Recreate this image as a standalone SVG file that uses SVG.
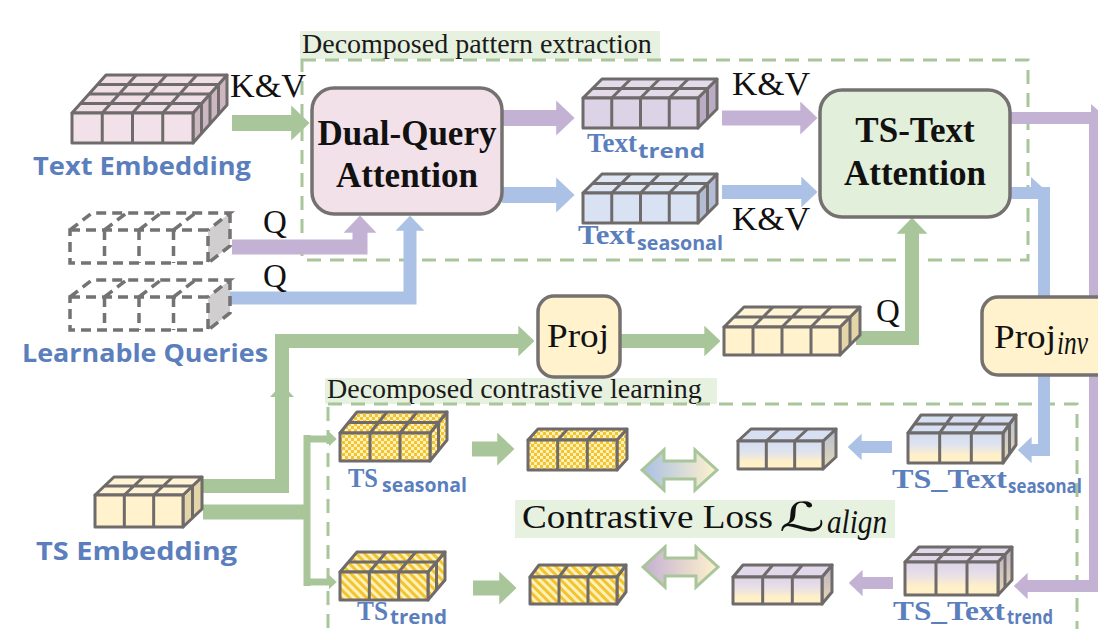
<svg xmlns="http://www.w3.org/2000/svg" width="1098" height="629" viewBox="0 0 1098 629">
<defs>
<style>
.dash{fill:none;stroke:#a8c69a;stroke-width:3;stroke-dasharray:14 9}
.hl{fill:#e6f1df}
.cap{font-family:"Liberation Serif",serif;font-size:28px;fill:#1a1a1a}
.box{stroke:#767171;stroke-width:3.5}
.bt{font-family:"Liberation Serif",serif;font-weight:700;font-size:35px;fill:#111;text-anchor:middle}
.cb{stroke:#6f6b6b;stroke-width:3;stroke-linejoin:round}
.gl{fill:none;stroke:#6f6b6b;stroke-width:3}
.dq{fill:none;stroke:#747272;stroke-width:3.5;stroke-dasharray:10 6}
.lbl{font-family:"Open Sans","DejaVu Sans",sans-serif;font-weight:700;font-size:25px;fill:#5b7ebd}
.sl{font-family:"Liberation Serif",serif;font-weight:700;font-size:27px;fill:#5b7ebd}
.ss{font-family:"Open Sans","DejaVu Sans",sans-serif;font-weight:700;font-size:20px;fill:#5b7ebd}
.kv{font-family:"Liberation Serif",serif;font-size:33px;fill:#111}
.g{fill:none;stroke:#a8c69a}
.p{fill:none;stroke:#c4b2d4}
.b{fill:none;stroke:#abc1e5}
</style>
<marker id="ag" viewBox="0 0 11.5 22" refX="0.5" refY="11" markerWidth="1.15" markerHeight="2.2" markerUnits="strokeWidth" orient="auto"><path d="M0,0 L11.5,11 L0,22 z" fill="#a8c69a"/></marker>
<marker id="ap" viewBox="0 0 11.5 22" refX="0.5" refY="11" markerWidth="1.15" markerHeight="2.2" markerUnits="strokeWidth" orient="auto"><path d="M0,0 L11.5,11 L0,22 z" fill="#c4b2d4"/></marker>
<marker id="ab" viewBox="0 0 11.5 22" refX="0.5" refY="11" markerWidth="1.15" markerHeight="2.2" markerUnits="strokeWidth" orient="auto"><path d="M0,0 L11.5,11 L0,22 z" fill="#abc1e5"/></marker>
<pattern id="chk" width="6" height="6" patternUnits="userSpaceOnUse"><rect width="6" height="6" fill="#f3c431"/><rect width="3" height="3" fill="#fff1b8"/><rect x="3" y="3" width="3" height="3" fill="#fff1b8"/></pattern>
<pattern id="str" width="6" height="6" patternUnits="userSpaceOnUse" patternTransform="rotate(-45)"><rect width="6" height="6" fill="#f3c431"/><rect width="3" height="6" fill="#fff1b8"/></pattern>
<linearGradient id="gbY" x1="0" y1="0" x2="0" y2="1"><stop offset="0" stop-color="#d3ddf2"/><stop offset="0.4" stop-color="#dfe3ee"/><stop offset="0.75" stop-color="#fff0c8"/></linearGradient>
<linearGradient id="gpY" x1="0" y1="0" x2="0" y2="1"><stop offset="0" stop-color="#ddd3e8"/><stop offset="0.4" stop-color="#e8e0e6"/><stop offset="0.75" stop-color="#fff0c8"/></linearGradient>
<linearGradient id="gbS" x1="0" y1="0" x2="0" y2="1"><stop offset="0" stop-color="#b3bfd6"/><stop offset="1" stop-color="#e6d9b2"/></linearGradient>
<linearGradient id="gpS" x1="0" y1="0" x2="0" y2="1"><stop offset="0" stop-color="#bcb0c8"/><stop offset="1" stop-color="#e6d9b2"/></linearGradient>
<linearGradient id="dB" x1="0" y1="0" x2="1" y2="0"><stop offset="0" stop-color="#a9bfe6"/><stop offset="1" stop-color="#fff2cc"/></linearGradient>
<linearGradient id="dP" x1="0" y1="0" x2="1" y2="0"><stop offset="0" stop-color="#c3b0d3"/><stop offset="1" stop-color="#fff2cc"/></linearGradient>
</defs>
<rect width="1098" height="629" fill="#ffffff"/>

<g id="regions">
<rect class="hl" x="300" y="31" width="360" height="28"/>
<text class="cap" x="302" y="53">Decomposed pattern extraction</text>
<rect class="dash" x="302" y="60" width="726" height="200"/>
<rect class="hl" x="325" y="378" width="392" height="26"/>
<text class="cap" x="327" y="398">Decomposed contrastive learning</text>
<rect class="dash" x="328" y="404" width="749" height="260"/>
</g>

<g id="connectors">
<path class="g" stroke-width="16" d="M232,123H292" marker-end="url(#ag)"/>
<path class="p" stroke-width="16" d="M502,118H557" marker-end="url(#ap)"/>
<path class="b" stroke-width="16" d="M502,195H557" marker-end="url(#ab)"/>
<path class="p" stroke-width="15" d="M722,118H801" marker-end="url(#ap)"/>
<path class="b" stroke-width="14" d="M722,192H802" marker-end="url(#ab)"/>
<path class="p" stroke-width="15" d="M232,247H360V232" marker-end="url(#ap)"/>
<path class="b" stroke-width="13" d="M230,298H410V230" marker-end="url(#ab)"/>
<path class="g" stroke-width="14" d="M856,338H912V233" marker-end="url(#ag)"/>
<path class="g" stroke-width="14" d="M203,486H282V341H519" marker-end="url(#ag)"/>
<polygon fill="#a8c69a" points="270,397 282,384 294,397"/>
<path class="g" stroke-width="14" d="M620,341H705" marker-end="url(#ag)"/>
<path class="g" stroke-width="15" d="M203,512H310"/>
<path class="g" stroke-width="7" d="M307,435V586"/>
<path class="g" stroke-width="7" d="M304,439H329" marker-end="url(#ag)"/>
<path class="g" stroke-width="7" d="M304,582H329" marker-end="url(#ag)"/>
<path class="g" stroke-width="15" d="M472,449H498" marker-end="url(#ag)"/>
<path class="g" stroke-width="15" d="M473,588H500" marker-end="url(#ag)"/>
<path class="p" stroke-width="12" d="M1010,118H1095V586H1027" marker-end="url(#ap)"/>
<polygon fill="#c4b2d4" points="1091,104 1100,112 1091,112"/>
<path class="b" stroke-width="12" d="M1010,193H1044V450H1031" marker-end="url(#ab)"/>
<polygon fill="#abc1e5" points="1031,177 1043,188 1031,188"/>
<path class="b" stroke-width="12" d="M892,447H861" marker-end="url(#ab)"/>
<path class="p" stroke-width="12" d="M893,583H862" marker-end="url(#ap)"/>
<polygon fill="url(#dB)" stroke="#a8c69a" stroke-width="3" stroke-linejoin="miter" points="642,470 664,450 664,461 695,461 695,450 717,470 695,490 695,479 664,479 664,490"/>
<polygon fill="url(#dP)" stroke="#a8c69a" stroke-width="3" stroke-linejoin="miter" points="643,567 665,547 665,558 696,558 696,547 718,567 696,587 696,576 665,576 665,587"/>
<text class="kv" x="230" y="97" textLength="76" lengthAdjust="spacingAndGlyphs">K&amp;V</text>
<text class="kv" x="732" y="95" textLength="78" lengthAdjust="spacingAndGlyphs">K&amp;V</text>
<text class="kv" x="732" y="230" textLength="78" lengthAdjust="spacingAndGlyphs">K&amp;V</text>
<text class="kv" x="263" y="233">Q</text>
<text class="kv" x="263" y="287">Q</text>
<text class="kv" x="876" y="322">Q</text>
</g>

<g id="text-embedding">
<polygon class="cb" fill="#cbb6c1" points="193,113 227,75 227,105 193,143"/>
<polygon class="cb" fill="#f1dfe7" points="72,113 193,113 227,75 106,75"/>
<rect class="cb" fill="#f3e1e9" x="72" y="113" width="121" height="30"/>
<path class="gl" d="M102.25,113V143M132.5,113V143M162.75,113V143M80.5,103.5H201.5M89,94H210M97.5,84.5H218.5M102.25,113L136.25,75M132.5,113L166.5,75M162.75,113L196.75,75M201.5,103.5V133.5M210,94V124M218.5,84.5V114.5"/>
<text class="lbl" x="33" y="175" textLength="218" lengthAdjust="spacingAndGlyphs">Text Embedding</text>
</g>

<g id="learnable-queries">
<polygon fill="#d0cece" points="208,230 230,213 230,246 208,263"/>
<path class="dq" d="M70,230H208V263H70Z M70,230L92,213H230L208,230 M230,213V246L208,263 M104.5,230V263M139,230V263M173.5,230V263M104.5,230L126.5,213M139,230L161,213M173.5,230L195.5,213"/>
<polygon fill="#d0cece" points="208,297 230,280 230,313 208,330"/>
<path class="dq" d="M70,297H208V330H70Z M70,297L92,280H230L208,297 M230,280V313L208,330 M104.5,297V330M139,297V330M173.5,297V330M104.5,297L126.5,280M139,297L161,280M173.5,297L195.5,280"/>
<text class="lbl" x="22" y="362" textLength="246" lengthAdjust="spacingAndGlyphs">Learnable Queries</text>
</g>

<g id="dual-query-attention">
<rect class="box" fill="#f3e1e9" x="312" y="88" width="190" height="126" rx="22"/>
<text class="bt" x="407" y="145">Dual-Query</text>
<text class="bt" x="407" y="187">Attention</text>
</g>

<g id="text-trend">
<polygon class="cb" fill="#b9acc4" points="698,98 717,79 717,109 698,128"/>
<polygon class="cb" fill="#e3dbea" points="583,98 698,98 717,79 602,79"/>
<rect class="cb" fill="#ddd3e6" x="583" y="98" width="115" height="30"/>
<path class="gl" d="M611.75,98V128M640.5,98V128M669.25,98V128M592.5,88.5H707.5M611.75,98L630.75,79M640.5,98L659.5,79M669.25,98L688.25,79M707.5,88.5V118.5"/>
<text class="sl" x="587" y="152" textLength="50" lengthAdjust="spacingAndGlyphs">Text</text>
<text class="ss" x="638" y="158" textLength="67" lengthAdjust="spacingAndGlyphs">trend</text>
</g>

<g id="text-seasonal">
<polygon class="cb" fill="#b2bdd4" points="698,193 717,174 717,204 698,223"/>
<polygon class="cb" fill="#dfe6f4" points="583,193 698,193 717,174 602,174"/>
<rect class="cb" fill="#d9e2f3" x="583" y="193" width="115" height="30"/>
<path class="gl" d="M611.75,193V223M640.5,193V223M669.25,193V223M592.5,183.5H707.5M611.75,193L630.75,174M640.5,193L659.5,174M669.25,193L688.25,174M707.5,183.5V213.5"/>
<text class="sl" x="578" y="244" textLength="57" lengthAdjust="spacingAndGlyphs">Text</text>
<text class="ss" x="637" y="250" textLength="86" lengthAdjust="spacingAndGlyphs">seasonal</text>
</g>

<g id="ts-text-attention">
<rect class="box" fill="#e2efda" x="820" y="90" width="190" height="127" rx="22"/>
<text class="bt" x="915" y="142">TS-Text</text>
<text class="bt" x="915" y="185">Attention</text>
</g>

<g id="proj">
<rect class="box" fill="#fff2cc" x="538" y="296" width="82" height="81" rx="16"/>
<text class="kv" x="547" y="347" font-size="34" textLength="62" lengthAdjust="spacingAndGlyphs">Proj</text>
</g>

<g id="ts-query">
<polygon class="cb" fill="#e3d5a8" points="840,327 860,307 860,335 840,355"/>
<polygon class="cb" fill="#fff4d4" points="724,327 840,327 860,307 744,307"/>
<rect class="cb" fill="#fff2cc" x="724" y="327" width="116" height="28"/>
<path class="gl" d="M753,327V355M782,327V355M811,327V355M734,317H850M753,327L773,307M782,327L802,307M811,327L831,307M850,317V345"/>
</g>

<g id="proj-inv">
<rect class="box" fill="#fff2cc" x="982" y="297" width="140" height="78" rx="16"/>
<text class="kv" x="994" y="348" font-size="34" textLength="62" lengthAdjust="spacingAndGlyphs">Proj</text>
<text class="kv" x="1057" y="354" font-size="26" font-style="italic" textLength="31" lengthAdjust="spacingAndGlyphs">inv</text>
</g>

<g id="ts-embedding">
<polygon class="cb" fill="#e3d5a8" points="183,495 202,477 202,509 183,527"/>
<polygon class="cb" fill="#fff4d4" points="95,495 183,495 202,477 114,477"/>
<rect class="cb" fill="#fff2cc" x="95" y="495" width="88" height="32"/>
<path class="gl" d="M124.33,495V527M153.67,495V527M104.5,486H192.5M124.33,495L143.33,477M153.67,495L172.67,477M192.5,486V518"/>
<text class="lbl" x="36" y="560" textLength="201" lengthAdjust="spacingAndGlyphs">TS Embedding</text>
</g>

<g id="ts-seasonal">
<polygon class="cb" fill="url(#chk)" points="430,433 447,412 447,440 430,461"/>
<polygon class="cb" fill="url(#chk)" points="340,433 430,433 447,412 357,412"/>
<rect class="cb" fill="url(#chk)" x="340" y="433" width="90" height="28"/>
<path class="gl" d="M370,433V461M400,433V461M348.5,422.5H438.5M370,433L387,412M400,433L417,412M438.5,422.5V450.5"/>
<text class="sl" x="348" y="487" textLength="30" lengthAdjust="spacingAndGlyphs">TS</text>
<text class="ss" x="382" y="492" textLength="85" lengthAdjust="spacingAndGlyphs">seasonal</text>
</g>

<g id="ts-trend">
<polygon class="cb" fill="url(#str)" points="428,572 445,552 445,580 428,600"/>
<polygon class="cb" fill="url(#str)" points="340,572 428,572 445,552 357,552"/>
<rect class="cb" fill="url(#str)" x="340" y="572" width="88" height="28"/>
<path class="gl" d="M369.33,572V600M398.67,572V600M348.5,562H436.5M369.33,572L386.33,552M398.67,572L415.67,552M436.5,562V590"/>
<text class="sl" x="357" y="620" textLength="31" lengthAdjust="spacingAndGlyphs">TS</text>
<text class="ss" x="390" y="624" textLength="57" lengthAdjust="spacingAndGlyphs">trend</text>
</g>

<g id="seasonal-copy">
<polygon class="cb" fill="url(#chk)" points="617,440 627,429 627,459 617,470"/>
<polygon class="cb" fill="url(#chk)" points="528,440 617,440 627,429 538,429"/>
<rect class="cb" fill="url(#chk)" x="528" y="440" width="89" height="30"/>
<path class="gl" d="M557.67,440V470M587.33,440V470M557.67,440L567.67,429M587.33,440L597.33,429"/>
</g>

<g id="trend-copy">
<polygon class="cb" fill="url(#str)" points="617,577 626,565 626,592 617,604"/>
<polygon class="cb" fill="url(#str)" points="530,577 617,577 626,565 539,565"/>
<rect class="cb" fill="url(#str)" x="530" y="577" width="87" height="27"/>
<path class="gl" d="M559,577V604M588,577V604M559,577L568,565M588,577L597,565"/>
</g>

<g id="ts-text-seasonal-copy">
<polygon class="cb" fill="url(#gbS)" points="823,441 836,429 836,457 823,469"/>
<polygon class="cb" fill="#d7e0f2" points="738,441 823,441 836,429 751,429"/>
<rect class="cb" fill="url(#gbY)" x="738" y="441" width="85" height="28"/>
<path class="gl" d="M766.33,441V469M794.67,441V469M766.33,441L779.33,429M794.67,441L807.67,429"/>
</g>

<g id="ts-text-trend-copy">
<polygon class="cb" fill="url(#gpS)" points="822,577 832,565 832,592 822,604"/>
<polygon class="cb" fill="#e1d9ea" points="733,577 822,577 832,565 743,565"/>
<rect class="cb" fill="url(#gpY)" x="733" y="577" width="89" height="27"/>
<path class="gl" d="M762.67,577V604M792.33,577V604M762.67,577L772.67,565M792.33,577L802.33,565"/>
</g>

<g id="ts-text-seasonal">
<polygon class="cb" fill="url(#gbS)" points="1003,433 1016,415 1016,445 1003,463"/>
<polygon class="cb" fill="#d7e0f2" points="908,433 1003,433 1016,415 921,415"/>
<rect class="cb" fill="url(#gbY)" x="908" y="433" width="95" height="30"/>
<path class="gl" d="M939.67,433V463M971.33,433V463M914.5,424H1009.5M939.67,433L952.67,415M971.33,433L984.33,415M1009.5,424V454"/>
<text class="sl" x="892" y="488" textLength="115" lengthAdjust="spacingAndGlyphs">TS_Text</text>
<text class="ss" x="1008" y="493" textLength="74" lengthAdjust="spacingAndGlyphs">seasonal</text>
</g>

<g id="ts-text-trend">
<polygon class="cb" fill="url(#gpS)" points="998,562 1012,547 1012,580 998,595"/>
<polygon class="cb" fill="#e1d9ea" points="905,562 998,562 1012,547 919,547"/>
<rect class="cb" fill="url(#gpY)" x="905" y="562" width="93" height="33"/>
<path class="gl" d="M936,562V595M967,562V595M912,554.5H1005M936,562L950,547M967,562L981,547M1005,554.5V587.5"/>
<text class="sl" x="893" y="620" textLength="112" lengthAdjust="spacingAndGlyphs">TS_Text</text>
<text class="ss" x="1007" y="624" textLength="46" lengthAdjust="spacingAndGlyphs">trend</text>
</g>

<g id="contrastive-loss">
<rect class="hl" x="515" y="500" width="380" height="38"/>
<text class="kv" x="522" y="528" textLength="251" lengthAdjust="spacingAndGlyphs">Contrastive Loss</text>
<text x="779" y="531" font-family="'DejaVu Serif','DejaVu Sans',serif" font-size="40" fill="#111" textLength="46" lengthAdjust="spacingAndGlyphs">ℒ</text>
<text class="kv" x="827" y="533" font-size="26" font-style="italic" textLength="60" lengthAdjust="spacingAndGlyphs">align</text>
</g>
</svg>
